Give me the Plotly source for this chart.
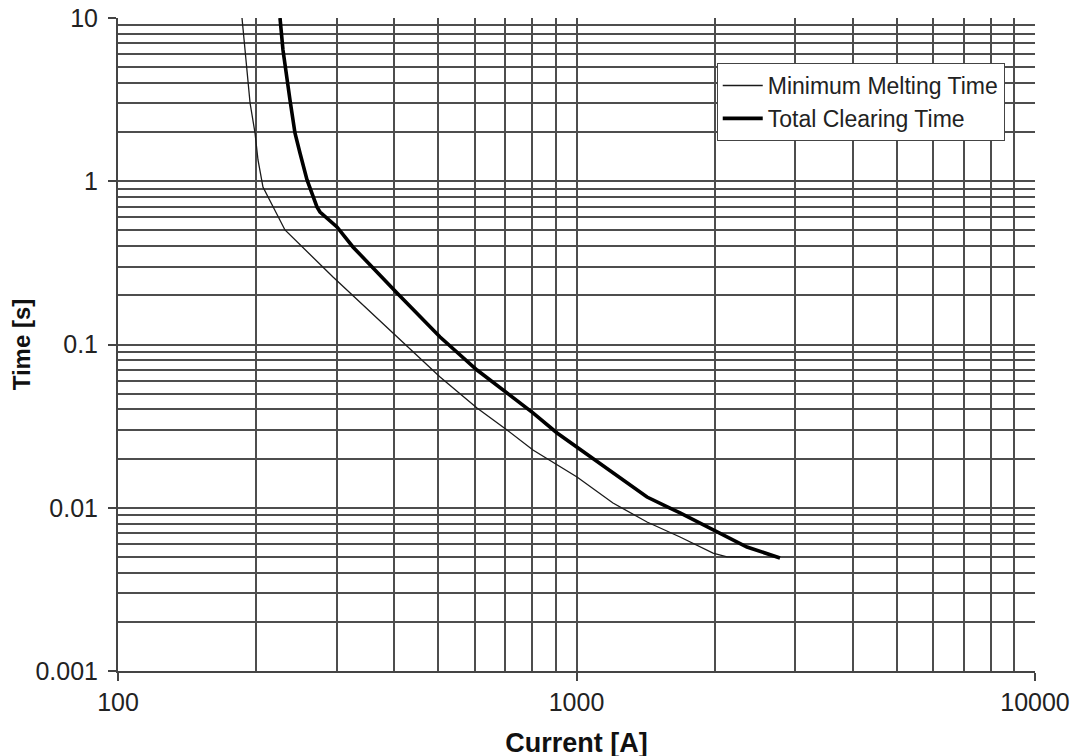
import plotly.graph_objects as go

# Data (Current [A], Time [s])
mmt_current = [186.4, 194.1, 199.0, 202.0, 207.1, 231.3, 294.4, 392, 504, 606.7, 705.4,
               803.6, 907, 1002.5, 1201, 1425, 1682, 1985, 2129, 2390]
mmt_time = [10, 3.015, 1.975, 1.35, 0.922, 0.503, 0.2593, 0.1227, 0.0632, 0.0408, 0.02995,
            0.0226, 0.01827, 0.01543, 0.01069, 0.00818, 0.00662, 0.00528, 0.005, 0.005]

tct_current = [225.6, 229, 237.2, 243.2, 249.4, 258.4, 271.6, 275.8, 300.3, 325.4, 406, 504,
               606.7, 705.4, 803.6, 907, 1002.5, 1201, 1425, 1682, 1985, 2354, 2779]
tct_time = [10, 6.37, 3.147, 1.975, 1.489, 1.018, 0.6955, 0.648, 0.5247, 0.3957, 0.2067,
            0.1112, 0.0698, 0.0504, 0.0381, 0.0287, 0.02356, 0.01633, 0.01163, 0.00929,
            0.0073, 0.00575, 0.00492]

x_major = [100, 1000, 10000]
x_major_text = ["100", "1000", "10000"]
y_major = [0.001, 0.01, 0.1, 1, 10]
y_major_text = ["0.001", "0.01", "0.1", "1", "10"]

x_minor = [m * d for d in [100, 1000] for m in range(2, 10)]
y_minor = [m * d for d in [0.001, 0.01, 0.1, 1] for m in range(2, 10)]

series_names = ["Minimum Melting Time", "Total Clearing Time"]

fig = go.Figure()
fig.add_trace(go.Scatter(x=mmt_current, y=mmt_time, mode="lines", name=series_names[0],
                         line=dict(color="#1a1a1a", width=1.3)))
fig.add_trace(go.Scatter(x=tct_current, y=tct_time, mode="lines", name=series_names[1],
                         line=dict(color="#000000", width=3.6)))

grid_color = "#4d4d4d"
fig.update_layout(
    width=1084, height=756,
    margin=dict(l=110, r=57, t=10, b=93, autoexpand=False),
    paper_bgcolor="white", plot_bgcolor="white",
    font=dict(family="Liberation Sans, Arial, sans-serif", color="#111111"),
    showlegend=True,
    legend=dict(x=0.967, y=0.931, xanchor="right", yanchor="top",
                bgcolor="white", bordercolor="#444444", borderwidth=1,
                font=dict(size=23, color="#222222"),
                itemwidth=40, tracegroupgap=0),
)
fig.update_xaxes(
    type="log", range=[2, 4], automargin=False,
    tickmode="array", tickvals=x_major, ticktext=x_major_text,
    ticks="outside", ticklen=8, tickwidth=1.5, tickcolor="#444444",
    tickfont=dict(size=25, color="#222222"),
    ticklabeloverflow="allow",
    showgrid=True, gridcolor=grid_color, gridwidth=1.7,
    showline=True, linecolor="#444444", linewidth=2, mirror=False,
    minor=dict(tickmode="array", tickvals=x_minor, showgrid=True,
               gridcolor=grid_color, gridwidth=1.7, ticks=""),
    zeroline=False,
    title=dict(text="<b>Current [A]</b>", font=dict(size=27, color="#111111"), standoff=18),
)
fig.update_yaxes(
    type="log", range=[-3, 1], automargin=False,
    tickmode="array", tickvals=y_major, ticktext=y_major_text,
    ticks="outside", ticklen=8, tickwidth=1.5, tickcolor="#444444",
    tickfont=dict(size=25, color="#222222"),
    ticklabelstandoff=5, ticklabeloverflow="allow",
    showgrid=True, gridcolor=grid_color, gridwidth=1.7,
    showline=True, linecolor="#444444", linewidth=2, mirror=False,
    minor=dict(tickmode="array", tickvals=y_minor, showgrid=True,
               gridcolor=grid_color, gridwidth=1.7, ticks=""),
    zeroline=False,
    title=dict(text="<b>Time [s]</b>", font=dict(size=24, color="#111111"), standoff=0),
)

fig.write_html("out.html")
